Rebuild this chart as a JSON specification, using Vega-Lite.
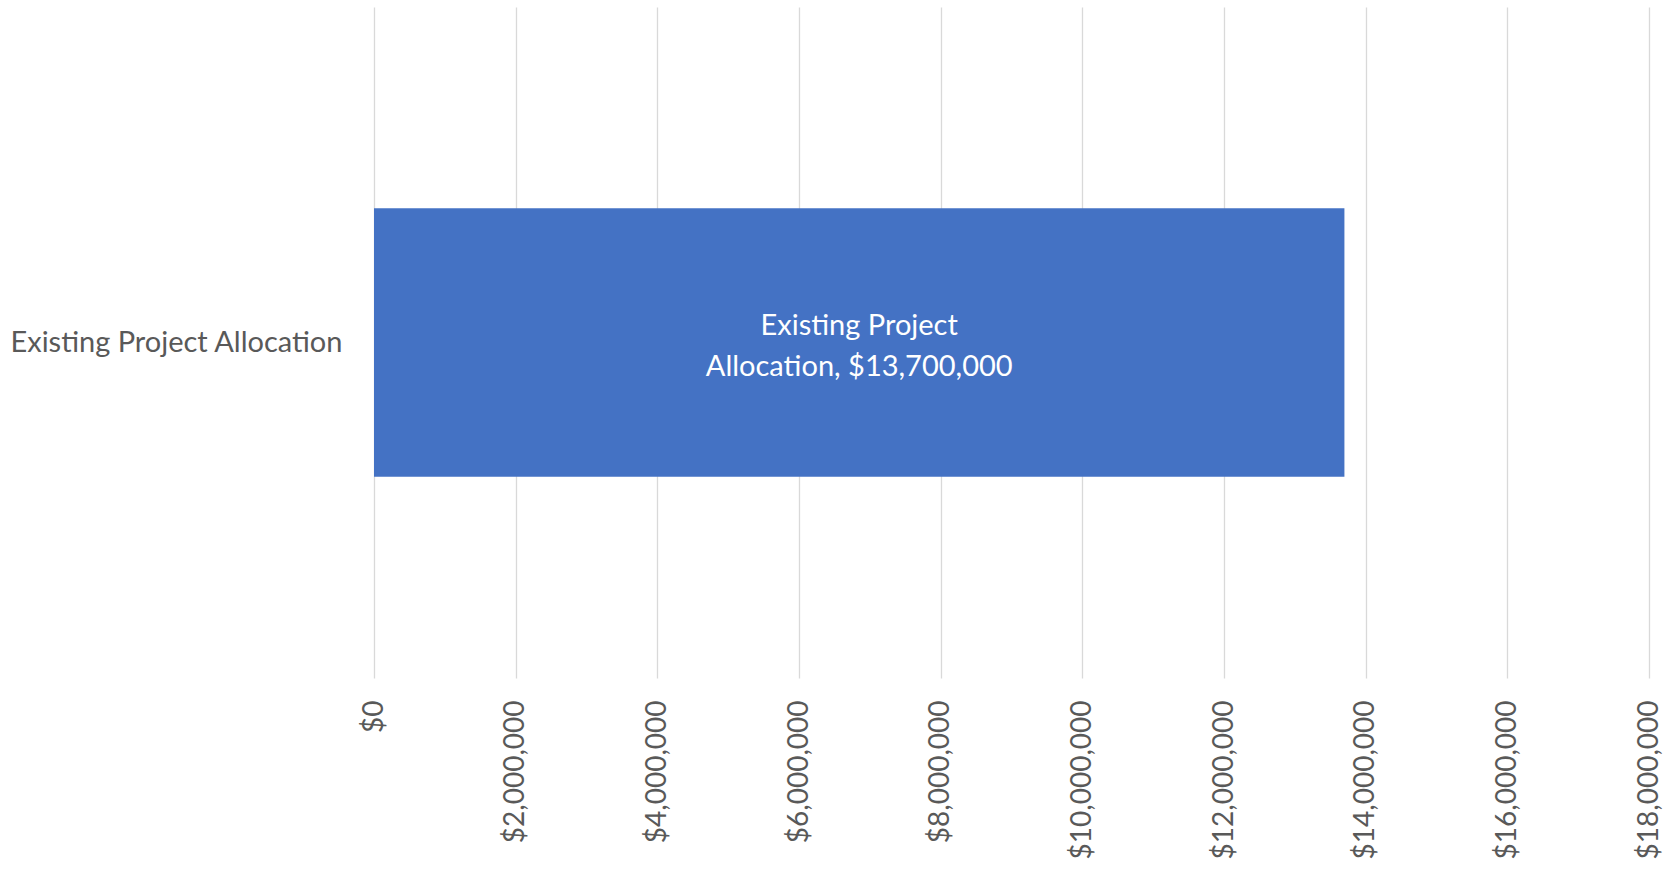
{
  "$schema": "https://vega.github.io/schema/vega-lite/v6.json",
  "autosize": {"type": "none"},
  "width": 1275,
  "height": 671,
  "padding": {"left": 374, "top": 7, "right": 27, "bottom": 191},
  "background": "white",
  "data": {"values": [
    {"category": "Existing Project Allocation", "value": 13700000, "label": "Existing Project\nAllocation, $13,700,000"}
  ]},
  "config": {
    "view": {"stroke": null},
    "font": "Lato"
  },
  "encoding": {
    "y": {
      "field": "category", "type": "nominal", "title": null,
      "scale": {"paddingInner": 0.6, "paddingOuter": 0.3},
      "axis": {"domain": false, "ticks": false, "labelFontSize": 29, "labelColor": "#595959", "labelPadding": 32, "labelFont": "Lato", "labelLimit": 400}
    }
  },
  "layer": [
    {
      "mark": {"type": "bar", "color": "#4472C4"},
      "encoding": {
        "x": {
          "field": "value", "type": "quantitative", "title": null,
          "scale": {"domain": [0, 18000000], "nice": false},
          "axis": {"values": [0, 2000000, 4000000, 6000000, 8000000, 10000000, 12000000, 14000000, 16000000, 18000000],
            "format": "$,.0f", "labelAngle": -90, "labelFontSize": 28, "labelColor": "#595959", "labelPadding": 22,
            "domain": false, "ticks": false, "grid": true, "gridColor": "#d9d9d9", "gridWidth": 1.3, "labelFont": "Lato", "labelFlush": false, "labelOverlap": false}
        }
      }
    },
    {
      "transform": [{"calculate": "datum.value / 2", "as": "mid"}],
      "mark": {"type": "text", "color": "white", "fontSize": 29, "lineBreak": "\n", "lineHeight": 41, "dy": -17, "align": "center", "baseline": "middle", "font": "Lato"},
      "encoding": {
        "x": {"field": "mid", "type": "quantitative"},
        "text": {"field": "label"}
      }
    }
  ]
}
